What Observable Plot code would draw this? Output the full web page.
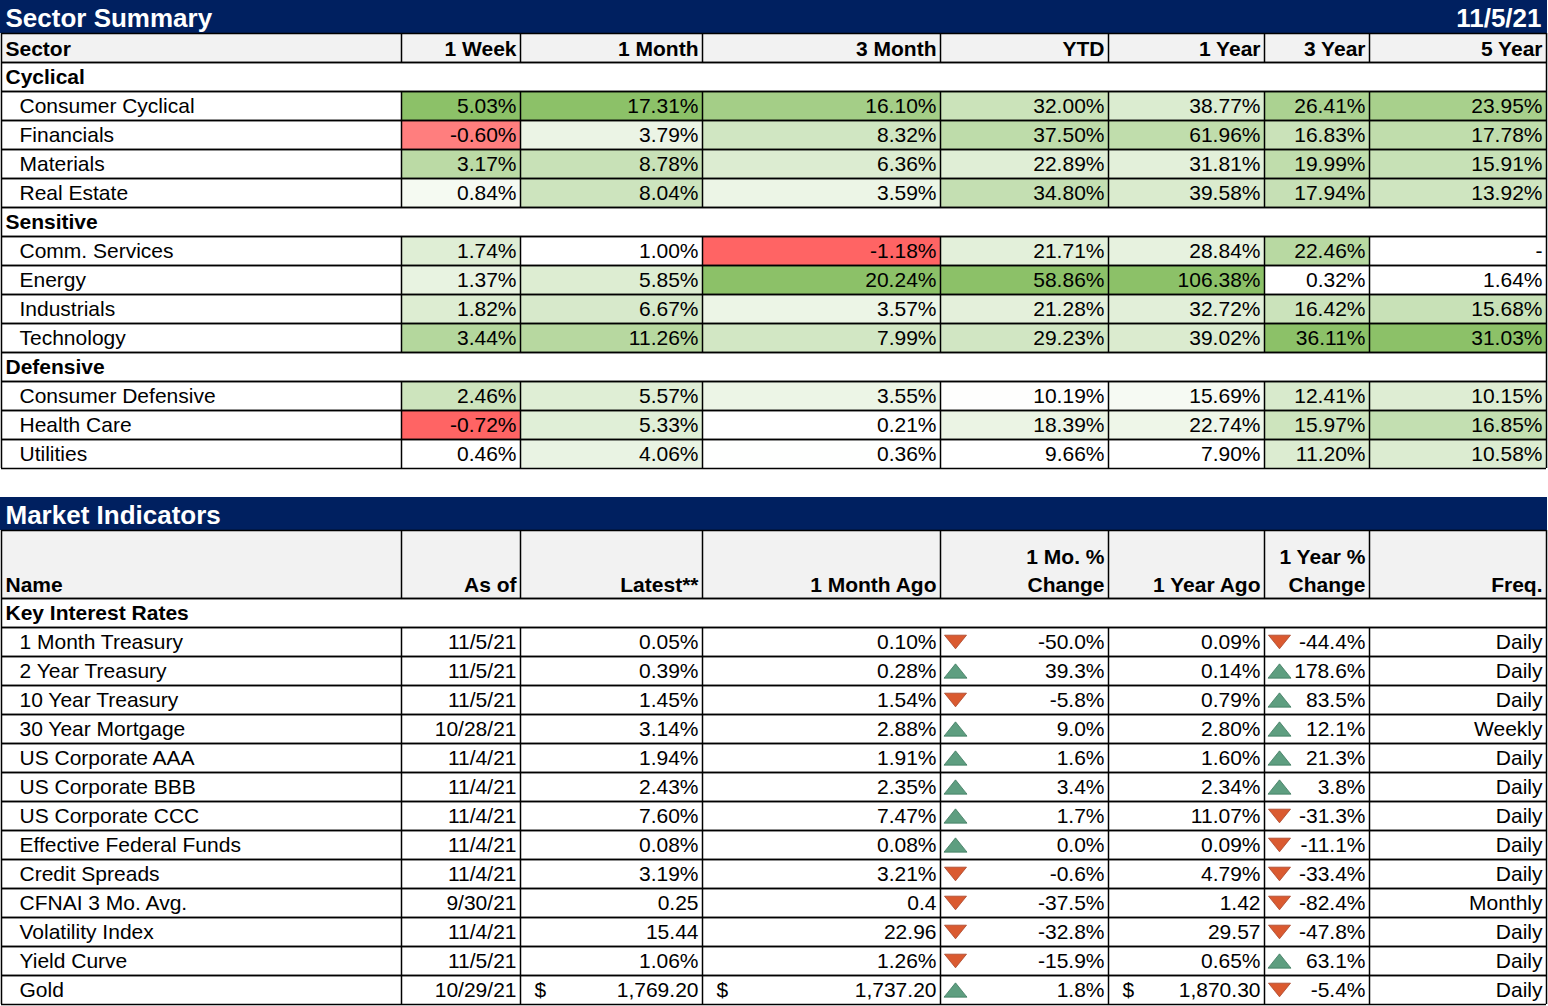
<!DOCTYPE html>
<html><head><meta charset="utf-8">
<script src="https://cdn.jsdelivr.net/npm/d3@7"></script>
<script src="https://cdn.jsdelivr.net/npm/@observablehq/plot@0.6"></script>
<style>
html,body{margin:0;padding:0;background:#fff;}
#chart svg{display:block;}
</style></head><body><div id="chart"></div>
<script>
// ================= DATA =================
const reportDate = "11/5/21";
const sectorTitle = "Sector Summary";
const sectorHeaders = ["Sector","1 Week","1 Month","3 Month","YTD","1 Year","3 Year","5 Year"];
const sectorGroups = ["Cyclical","Sensitive","Defensive"];
const sectorNames = ["Consumer Cyclical","Financials","Materials","Real Estate","Comm. Services","Energy","Industrials","Technology","Consumer Defensive","Health Care","Utilities"];
const sectorGroupIndex = [0,0,0,0,1,1,1,1,2,2,2];
const ret1Week  = [5.03,-0.60,3.17,0.84,1.74,1.37,1.82,3.44,2.46,-0.72,0.46];
const ret1Month = [17.31,3.79,8.78,8.04,1.00,5.85,6.67,11.26,5.57,5.33,4.06];
const ret3Month = [16.10,8.32,6.36,3.59,-1.18,20.24,3.57,7.99,3.55,0.21,0.36];
const retYTD    = [32.00,37.50,22.89,34.80,21.71,58.86,21.28,29.23,10.19,18.39,9.66];
const ret1Year  = [38.77,61.96,31.81,39.58,28.84,106.38,32.72,39.02,15.69,22.74,7.90];
const ret3Year  = [26.41,16.83,19.99,17.94,22.46,0.32,16.42,36.11,12.41,15.97,11.20];
const ret5Year  = [23.95,17.78,15.91,13.92,null,1.64,15.68,31.03,10.15,16.85,10.58];

const marketTitle = "Market Indicators";
const marketHeaders = ["Name","As of","Latest**","1 Month Ago","1 Mo. %\nChange","1 Year Ago","1 Year %\nChange","Freq."];
const marketGroup = "Key Interest Rates";
const indicatorNames = ["1 Month Treasury","2 Year Treasury","10 Year Treasury","30 Year Mortgage","US Corporate AAA","US Corporate BBB","US Corporate CCC","Effective Federal Funds","Credit Spreads","CFNAI 3 Mo. Avg.","Volatility Index","Yield Curve","Gold"];
const asOfDates = ["11/5/21","11/5/21","11/5/21","10/28/21","11/4/21","11/4/21","11/4/21","11/4/21","11/4/21","9/30/21","11/4/21","11/5/21","10/29/21"];
const valueUnits = ["%","%","%","%","%","%","%","%","%","","","%","$"];
const latestValues   = [0.05,0.39,1.45,3.14,1.94,2.43,7.60,0.08,3.19,0.25,15.44,1.06,1769.20];
const monthAgoValues = [0.10,0.28,1.54,2.88,1.91,2.35,7.47,0.08,3.21,0.4,22.96,1.26,1737.20];
const monthChangePct = [-50.0,39.3,-5.8,9.0,1.6,3.4,1.7,0.0,-0.6,-37.5,-32.8,-15.9,1.8];
const yearAgoValues  = [0.09,0.14,0.79,2.80,1.60,2.34,11.07,0.09,4.79,1.42,29.57,0.65,1870.30];
const yearChangePct  = [-44.4,178.6,83.5,12.1,21.3,3.8,-31.3,-11.1,-33.4,-82.4,-47.8,63.1,-5.4];
const frequencies = ["Daily","Daily","Daily","Weekly","Daily","Daily","Daily","Daily","Daily","Monthly","Daily","Daily","Daily"];

// ================= LAYOUT / STYLE =================
const W = 1548, H = 1006;
const colEdges = [1, 401, 520, 702, 940, 1108, 1264, 1369, 1546];
const FONT = "'Liberation Sans', Arial, Helvetica, sans-serif";
const NAVY = "#002060", HEADER_BG = "#f2f2f2";
const GREEN = "#8cc168", RED = "#ff6464";
const UP_FILL = "#5e9e80", UP_EDGE = "#3f7a60", DOWN_FILL = "#da5a30", DOWN_EDGE = "#a84428";

const sectorCols = [ret1Week, ret1Month, ret3Month, retYTD, ret1Year, ret3Year, ret5Year];

function cellColor(v, col) {
  if (v == null) return "#ffffff";
  const vals = col.filter(d => d != null);
  if (v < 0) { const mn = d3.min(vals); return d3.interpolateRgb("#ffffff", RED)(v / mn); }
  const pos = vals.filter(d => d >= 0);
  const lo = d3.min(pos), hi = d3.max(pos);
  return d3.interpolateRgb("#ffffff", GREEN)((v - lo) / (hi - lo));
}
const fmtPct2 = v => v.toFixed(2) + "%";
const fmtPct1 = v => v.toFixed(1) + "%";
const fmtUsd = d3.format(",.2f");
function fmtVal(v, unit) { return unit === "%" ? fmtPct2(v) : unit === "$" ? fmtUsd(v) : String(v); }

// rows
let yy = 0;
const rows = [];
function addRow(kind, h, extra) { rows.push({kind, y1: yy, y2: yy + h, ...extra}); yy += h; }
addRow("title", 33, {text: sectorTitle, right: reportDate});
addRow("header", 29, {labels: sectorHeaders});
sectorGroups.forEach((g, gi) => {
  addRow("group", 29, {text: g});
  sectorNames.forEach((n, i) => { if (sectorGroupIndex[i] === gi) addRow("sector", 29, {i}); });
});
yy += 29; // blank spacer row
addRow("title", 33, {text: marketTitle});
addRow("header", 68, {labels: marketHeaders, multi: true});
addRow("group", 29, {text: marketGroup});
indicatorNames.forEach((n, i) => addRow("market", 29, {i}));

const fills = [], hLines = [], vLines = [], texts = [], arrows = [];
function T(x, y, text, o = {}) {
  texts.push({x, y, text, anchor: o.anchor || "start", weight: o.weight || "normal", size: o.size || 21, fill: o.fill || "black", lh: o.lh || 1});
}
const L = colEdges[0], R = colEdges[colEdges.length - 1];
for (const r of rows) {
  const base = r.y2 - 8;
  if (r.kind === "title") {
    fills.push({x1: 0, x2: W - 1, y1: r.y1, y2: r.y2, fill: NAVY});
    T(5, r.y2 - 7, r.text, {weight: "bold", size: 26, fill: "white"});
    if (r.right) T(R - 5, r.y2 - 7, r.right, {anchor: "end", weight: "bold", size: 26, fill: "white"});
    continue;
  }
  hLines.push({y: r.y1}, {y: r.y2});
  vLines.push({x: L, y1: r.y1, y2: r.y2}, {x: R, y1: r.y1, y2: r.y2});
  if (r.kind !== "group") colEdges.slice(1, -1).forEach(x => vLines.push({x, y1: r.y1, y2: r.y2}));
  if (r.kind === "header") {
    fills.push({x1: L, x2: R, y1: r.y1, y2: r.y2, fill: HEADER_BG});
    r.labels.forEach((lab, c) => {
      if (c === 0) T(5, r.y2 - 7, lab, {weight: "bold"});
      else T(colEdges[c + 1] - 4, r.y2 - 7, lab, {anchor: "end", weight: "bold", lh: 28 / 21});
    });
  } else if (r.kind === "group") {
    T(5, base, r.text, {weight: "bold"});
  } else if (r.kind === "sector") {
    T(19, base, sectorNames[r.i]);
    sectorCols.forEach((col, c) => {
      const v = col[r.i];
      fills.push({x1: colEdges[c + 1], x2: colEdges[c + 2], y1: r.y1, y2: r.y2, fill: cellColor(v, col)});
      T(colEdges[c + 2] - 4, base, v == null ? "-" : fmtPct2(v), {anchor: "end"});
    });
  } else if (r.kind === "market") {
    const i = r.i, u = valueUnits[i];
    const cells = [asOfDates[i], fmtVal(latestValues[i], u), fmtVal(monthAgoValues[i], u), fmtPct1(monthChangePct[i]),
                   fmtVal(yearAgoValues[i], u), fmtPct1(yearChangePct[i]), frequencies[i]];
    T(19, base, indicatorNames[i]);
    cells.forEach((s, c) => {
      T(colEdges[c + 2] - 4, base, s, {anchor: "end"});
      if (u === "$" && (c === 1 || c === 2 || c === 4)) T(colEdges[c + 1] + 14, base, "$");
    });
    const cy = (r.y1 + r.y2) / 2;
    arrows.push({x: colEdges[4] + 15, y: cy, up: monthChangePct[i] >= 0});
    arrows.push({x: colEdges[6] + 15, y: cy, up: yearChangePct[i] >= 0});
  }
}

const triUp = {draw(ctx, size) { const r = Math.sqrt(size / Math.PI), h = r * 0.62; ctx.moveTo(0, -h); ctx.lineTo(r, h); ctx.lineTo(-r, h); ctx.closePath(); }};
const triDown = {draw(ctx, size) { const r = Math.sqrt(size / Math.PI), h = r * 0.62; ctx.moveTo(-r, -h); ctx.lineTo(r, -h); ctx.lineTo(0, h); ctx.closePath(); }};

// text marks grouped by style
const styleKeys = d3.groups(texts, d => [d.anchor, d.weight, d.size, d.fill, d.lh].join("|"));
const textMarks = styleKeys.map(([k, arr]) => {
  const d0 = arr[0];
  return Plot.text(arr, {x: "x", y: "y", text: "text", textAnchor: d0.anchor, lineAnchor: "bottom",
    fontWeight: d0.weight, fontSize: d0.size, fill: d0.fill, lineHeight: d0.lh});
});

const chart = Plot.plot({
  width: W, height: H, margin: 0,
  x: {domain: [0, W], range: [0, W], axis: null},
  y: {domain: [0, H], range: [0, H], axis: null},
  color: {type: "identity"},
  style: {fontFamily: FONT, background: "white", color: "black"},
  marks: [
    Plot.rect(fills, {x1: "x1", x2: "x2", y1: "y1", y2: "y2", fill: "fill"}),
    Plot.ruleY(hLines, {y: "y", x1: L, x2: R, stroke: "black", strokeWidth: 1.5}),
    Plot.ruleX(vLines, {x: "x", y1: "y1", y2: "y2", stroke: "black", strokeWidth: 1.5}),
    Plot.dot(arrows.filter(d => d.up), {x: "x", y: "y", r: 11.5, symbol: triUp, fill: UP_FILL, stroke: UP_EDGE, strokeWidth: 0.8}),
    Plot.dot(arrows.filter(d => !d.up), {x: "x", y: "y", r: 11, symbol: triDown, fill: DOWN_FILL, stroke: DOWN_EDGE, strokeWidth: 0.8}),
    ...textMarks
  ]
});
document.getElementById("chart").append(chart);
</script></body></html>
